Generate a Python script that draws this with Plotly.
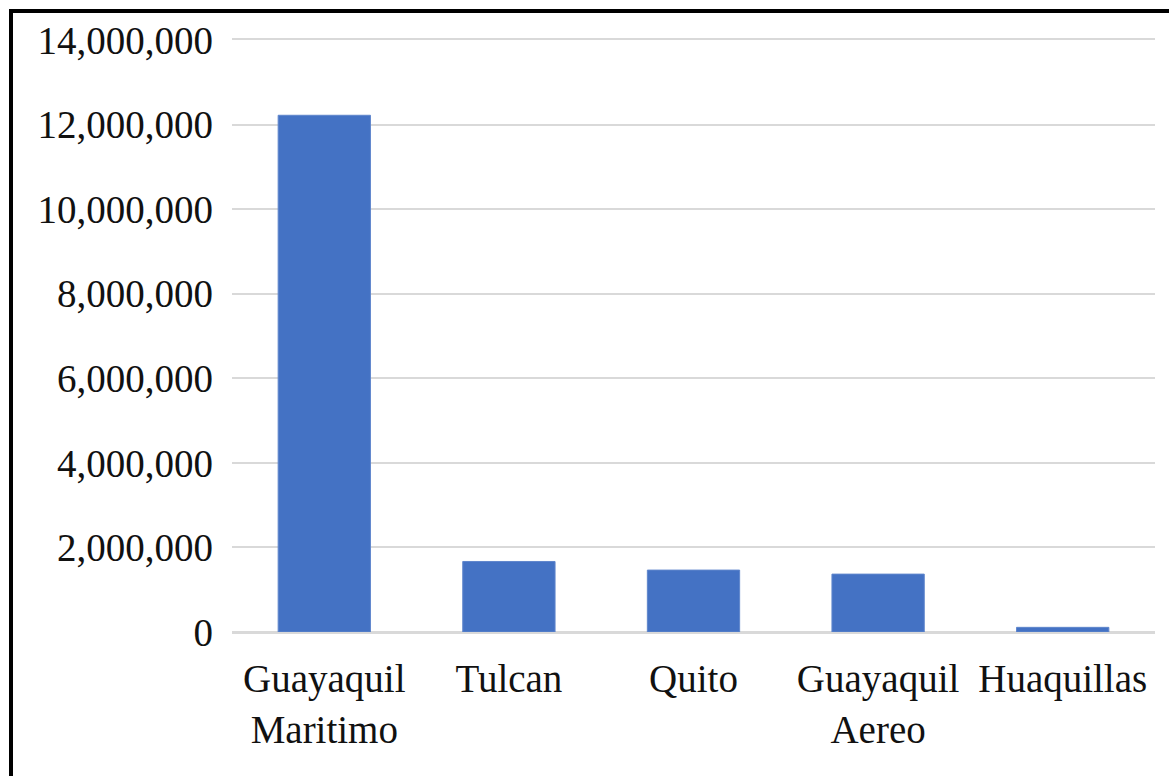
import plotly.graph_objects as go

# Data
categories = ["Guayaquil<br>Maritimo", "Tulcan", "Quito", "Guayaquil<br>Aereo", "Huaquillas"]
values = [12220000, 1668000, 1464000, 1369000, 110000]
tick_vals = [0, 2000000, 4000000, 6000000, 8000000, 10000000, 12000000, 14000000]
tick_text = ["0", "2,000,000", "4,000,000", "6,000,000", "8,000,000",
             "10,000,000", "12,000,000", "14,000,000"]

W, H = 1169, 776
L, R, T, B = 232, 14, 40, 144

FONT = "Liberation Serif, Times New Roman, serif"
GRID = "#d9d9d9"

fig = go.Figure(
    go.Bar(
        x=categories,
        y=values,
        marker=dict(color="#4472C4", line=dict(color="#5f86cc", width=1)),
        hoverinfo="x+y",
    )
)

# frame along the top and left edges, placed in pixel terms
pw, ph = W - L - R, H - T - B


def px_x(p):
    return (p - L) / pw


def px_y(p):
    return (H - B - p) / ph


frame = dict(color="black", width=4)
shapes = [
    dict(type="line", xref="paper", yref="paper",
         x0=px_x(11), x1=px_x(W + 5), y0=px_y(11), y1=px_y(11), line=frame),
    dict(type="line", xref="paper", yref="paper",
         x0=px_x(11), x1=px_x(11), y0=px_y(9), y1=px_y(H + 5), line=frame),
]

fig.update_layout(
    width=W,
    height=H,
    margin=dict(l=L, r=R, t=T, b=B),
    paper_bgcolor="white",
    plot_bgcolor="white",
    bargap=0.5,
    showlegend=False,
    font=dict(family=FONT, size=39, color="#111111"),
    shapes=shapes,
    xaxis=dict(
        showgrid=False,
        # mirrored axis line supplies the top (14,000,000) gridline and the baseline
        showline=True,
        mirror=True,
        linecolor=GRID,
        linewidth=2,
        ticks="",
        tickfont=dict(family=FONT, size=39, color="#111111"),
        ticklabelstandoff=11,
    ),
    yaxis=dict(
        range=[0, 14000000],
        tickvals=tick_vals,
        ticktext=tick_text,
        showgrid=True,
        gridcolor=GRID,
        gridwidth=2,
        zeroline=True,
        zerolinecolor=GRID,
        zerolinewidth=2,
        showline=False,
        ticks="",
        tickfont=dict(family=FONT, size=39, color="#111111"),
        ticklabelstandoff=18,
    ),
)

fig.write_html("out.html")
